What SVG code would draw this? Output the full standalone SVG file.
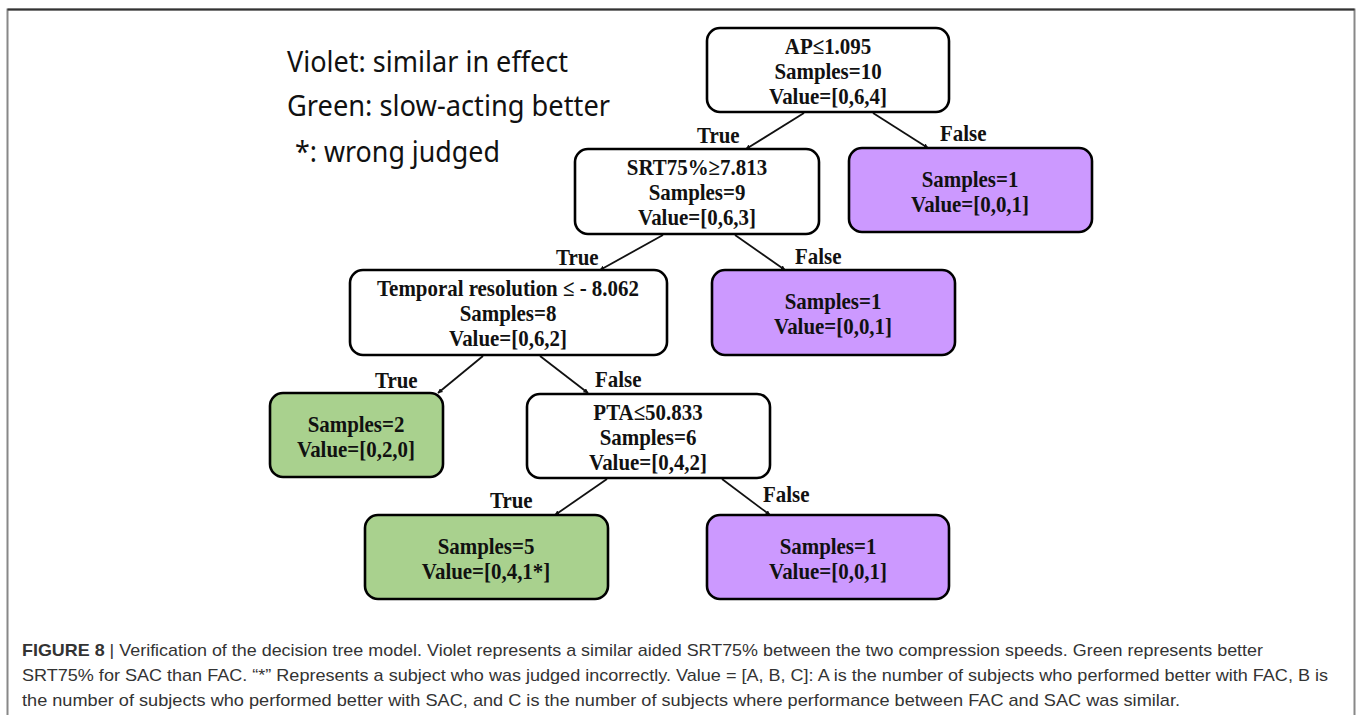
<svg xmlns="http://www.w3.org/2000/svg" width="1357" height="715" viewBox="0 0 1357 715">
<style>
.box{stroke:#000;stroke-width:2.6}
.w{fill:#fff}
.v{fill:#CC99FF}
.g{fill:#A9D18E}
.t{font-family:"Liberation Serif","Times New Roman",serif;font-weight:bold;font-size:23px;fill:#111;text-anchor:middle}
.lab{font-family:"Liberation Serif","Times New Roman",serif;font-weight:bold;font-size:23px;fill:#111;text-anchor:start}
.leg{font-family:"Noto Sans","Open Sans",sans-serif;font-size:29px;fill:#111}
.cap{font-family:"Liberation Sans",Arial,sans-serif;font-size:17px;fill:#333}
.edge{stroke:#111;stroke-width:1.8;fill:none;marker-end:url(#ah)}
</style>
<defs>
<marker id="ah" viewBox="0 0 10 10" refX="9" refY="5" markerWidth="5" markerHeight="5" orient="auto" markerUnits="userSpaceOnUse"><path d="M0,0 L10,5 L0,10 z" fill="#111"/></marker>
</defs>
<rect x="0" y="0" width="1357" height="715" fill="#fff"/>
<path d="M7.5,716 V9.5 H1354.5 V716" fill="none" stroke="#888" stroke-width="2"/>
<path d="M7.5,9.5 H1354.5" fill="none" stroke="#333" stroke-width="2"/>

<g id="legend">
<text class="leg" x="287" y="72" textLength="281" lengthAdjust="spacingAndGlyphs">Violet: similar in effect</text>
<text class="leg" x="287" y="116" textLength="323" lengthAdjust="spacingAndGlyphs">Green: slow-acting better</text>
<text class="leg" x="295" y="162" textLength="205" lengthAdjust="spacingAndGlyphs">*: wrong judged</text>
</g>

<g id="connectors">
<line class="edge" x1="804" y1="113" x2="746" y2="149"/>
<line class="edge" x1="873" y1="113" x2="928" y2="148"/>
<line class="edge" x1="663" y1="235" x2="600" y2="270"/>
<line class="edge" x1="735" y1="235" x2="785" y2="270"/>
<line class="edge" x1="483" y1="356" x2="438" y2="393"/>
<line class="edge" x1="540" y1="356" x2="588" y2="393"/>
<line class="edge" x1="607" y1="479" x2="555" y2="515"/>
<line class="edge" x1="722" y1="479" x2="770" y2="515"/>
<g transform="translate(697 0) scale(0.91 1)"><text class="lab" x="0" y="143">True</text></g>
<g transform="translate(940 0) scale(0.91 1)"><text class="lab" x="0" y="141">False</text></g>
<g transform="translate(556 0) scale(0.91 1)"><text class="lab" x="0" y="265">True</text></g>
<g transform="translate(795 0) scale(0.91 1)"><text class="lab" x="0" y="264">False</text></g>
<g transform="translate(375 0) scale(0.91 1)"><text class="lab" x="0" y="388">True</text></g>
<g transform="translate(595 0) scale(0.91 1)"><text class="lab" x="0" y="387">False</text></g>
<g transform="translate(490 0) scale(0.91 1)"><text class="lab" x="0" y="508">True</text></g>
<g transform="translate(763 0) scale(0.91 1)"><text class="lab" x="0" y="502">False</text></g>
</g>

<g id="n_root">
<rect class="box w" x="707" y="28" width="242" height="84" rx="13"/>
<g transform="translate(828 0) scale(0.91 1)">
<text class="t" x="0" y="54">AP≤1.095</text>
<text class="t" x="0" y="79">Samples=10</text>
<text class="t" x="0" y="104">Value=[0,6,4]</text>
</g>
</g>

<g id="n_srt">
<rect class="box w" x="575" y="149" width="244" height="85" rx="13"/>
<g transform="translate(697 0) scale(0.91 1)">
<text class="t" x="0" y="175">SRT75%≥7.813</text>
<text class="t" x="0" y="200">Samples=9</text>
<text class="t" x="0" y="225">Value=[0,6,3]</text>
</g>
</g>

<g id="n_f1">
<rect class="box v" x="849" y="148" width="243" height="84" rx="13"/>
<g transform="translate(970 0) scale(0.91 1)">
<text class="t" x="0" y="187">Samples=1</text>
<text class="t" x="0" y="212">Value=[0,0,1]</text>
</g>
</g>

<g id="n_temp">
<rect class="box w" x="350" y="270" width="317" height="85" rx="13"/>
<g transform="translate(508 0) scale(0.91 1)">
<text class="t" x="0" y="296">Temporal resolution ≤ - 8.062</text>
<text class="t" x="0" y="321">Samples=8</text>
<text class="t" x="0" y="346">Value=[0,6,2]</text>
</g>
</g>

<g id="n_f2">
<rect class="box v" x="712" y="270" width="243" height="85" rx="13"/>
<g transform="translate(833 0) scale(0.91 1)">
<text class="t" x="0" y="309">Samples=1</text>
<text class="t" x="0" y="334">Value=[0,0,1]</text>
</g>
</g>

<g id="n_g2">
<rect class="box g" x="270" y="393" width="173" height="84" rx="13"/>
<g transform="translate(356 0) scale(0.91 1)">
<text class="t" x="0" y="432">Samples=2</text>
<text class="t" x="0" y="457">Value=[0,2,0]</text>
</g>
</g>

<g id="n_pta">
<rect class="box w" x="527" y="394" width="243" height="84" rx="13"/>
<g transform="translate(648 0) scale(0.91 1)">
<text class="t" x="0" y="420">PTA≤50.833</text>
<text class="t" x="0" y="445">Samples=6</text>
<text class="t" x="0" y="470">Value=[0,4,2]</text>
</g>
</g>

<g id="n_g5">
<rect class="box g" x="365" y="515" width="243" height="84" rx="13"/>
<g transform="translate(486 0) scale(0.91 1)">
<text class="t" x="0" y="554">Samples=5</text>
<text class="t" x="0" y="579">Value=[0,4,1*]</text>
</g>
</g>

<g id="n_f3">
<rect class="box v" x="707" y="515" width="242" height="84" rx="13"/>
<g transform="translate(828 0) scale(0.91 1)">
<text class="t" x="0" y="554">Samples=1</text>
<text class="t" x="0" y="579">Value=[0,0,1]</text>
</g>
</g>

<g id="caption">
<text class="cap" x="22" y="656" textLength="1241" lengthAdjust="spacingAndGlyphs"><tspan font-weight="bold">FIGURE 8</tspan> | Verification of the decision tree model. Violet represents a similar aided SRT75% between the two compression speeds. Green represents better</text>
<text class="cap" x="22" y="681" textLength="1306" lengthAdjust="spacingAndGlyphs">SRT75% for SAC than FAC. “*” Represents a subject who was judged incorrectly. Value = [A, B, C]: A is the number of subjects who performed better with FAC, B is</text>
<text class="cap" x="22" y="706" textLength="1158" lengthAdjust="spacingAndGlyphs">the number of subjects who performed better with SAC, and C is the number of subjects where performance between FAC and SAC was similar.</text>
</g>
</svg>
